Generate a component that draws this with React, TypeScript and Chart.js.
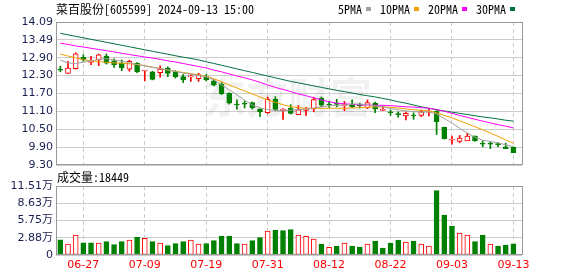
import React, { useEffect, useRef } from "react";
import { Chart, registerables } from "chart.js";

Chart.register(...registerables);

const stockName = "菜百股份";
const stockCode = "605599";
const dateTime = "2024-09-13 15:00";
const watermarkText = "东方财富";

const dates = [
  "06-24", "06-25", "06-26", "06-27", "06-28",
  "07-01", "07-02", "07-03", "07-04", "07-05", "07-08", "07-09", "07-10", "07-11", "07-12",
  "07-15", "07-16", "07-17", "07-18", "07-19", "07-22", "07-23", "07-24", "07-25", "07-26",
  "07-29", "07-30", "07-31",
  "08-01", "08-02", "08-05", "08-06", "08-07", "08-08", "08-09", "08-12", "08-13", "08-14",
  "08-15", "08-16", "08-19", "08-20", "08-21", "08-22", "08-23", "08-26", "08-27", "08-28",
  "08-29", "08-30",
  "09-02", "09-03", "09-04", "09-05", "09-06", "09-09", "09-10", "09-11", "09-12", "09-13",
];

const opens = [
  12.5, 12.37, 12.53, 12.91, 12.74, 12.82, 12.95, 12.79, 12.71, 12.51,
  12.71, 12.45, 12.42, 12.39, 12.55, 12.42, 12.26, 12.25, 12.19, 12.26,
  12.12, 12.01, 11.7, 11.33, 11.35, 11.39, 11.17, 11.05, 11.5, 11.13,
  11.21, 10.99, 11.13, 11.18, 11.53, 11.33, 11.35, 11.29, 11.34, 11.31,
  11.21, 11.37, 11.13, 11.06, 11.0, 10.94, 10.95, 10.96, 11.07, 11.11,
  10.56, 10.13, 10.09, 10.11, 10.27, 10.01, 10.01, 9.99, 9.91, 9.89,
];
const closes = [
  12.48, 12.55, 13.02, 12.82, 12.77, 12.99, 12.71, 12.66, 12.55, 12.77,
  12.42, 12.46, 12.17, 12.51, 12.37, 12.26, 12.15, 12.27, 12.33, 12.15,
  11.97, 11.68, 11.37, 11.31, 11.34, 11.21, 11.08, 11.5, 11.16, 11.15,
  11.03, 11.15, 11.17, 11.49, 11.3, 11.31, 11.33, 11.31, 11.25, 11.29,
  11.39, 11.17, 11.14, 11.05, 10.99, 11.03, 10.94, 11.08, 11.09, 10.75,
  10.18, 10.15, 10.2, 10.27, 10.11, 10.0, 10.0, 9.98, 9.85, 9.71,
];
const highs = [
  12.61, 12.77, 13.06, 12.99, 12.94, 13.02, 13.02, 12.86, 12.82, 12.81,
  12.73, 12.47, 12.44, 12.62, 12.59, 12.46, 12.33, 12.33, 12.37, 12.33,
  12.15, 12.06, 11.72, 11.48, 11.45, 11.41, 11.19, 11.58, 11.59, 11.19,
  11.32, 11.29, 11.23, 11.57, 11.58, 11.43, 11.5, 11.43, 11.48, 11.37,
  11.48, 11.41, 11.27, 11.14, 11.08, 11.08, 11.05, 11.14, 11.19, 11.13,
  10.57, 10.27, 10.29, 10.36, 10.28, 10.11, 10.07, 10.05, 10.03, 9.91,
];
const lows = [
  12.42, 12.37, 12.51, 12.77, 12.66, 12.63, 12.68, 12.57, 12.46, 12.44,
  12.39, 12.12, 12.15, 12.24, 12.26, 12.21, 12.06, 12.1, 12.1, 12.12,
  11.95, 11.66, 11.34, 11.17, 11.21, 11.17, 10.92, 11.03, 11.12, 10.83,
  11.01, 10.99, 10.96, 11.08, 11.25, 11.23, 11.25, 11.12, 11.23, 11.21,
  11.19, 11.05, 11.12, 10.96, 10.9, 10.81, 10.83, 10.92, 10.94, 10.32,
  10.17, 10.0, 10.05, 10.11, 10.1, 9.91, 9.85, 9.91, 9.85, 9.71,
];

const ma5 = [
  12.81, 12.72, 12.7, 12.74, 12.79, 12.84, 12.86, 12.82, 12.78, 12.72,
  12.66, 12.62, 12.57, 12.53, 12.48, 12.43, 12.38, 12.34, 12.3, 12.25,
  12.15, 11.98, 11.82, 11.65, 11.47, 11.31, 11.21, 11.16, 11.13, 11.11,
  11.14, 11.15, 11.17, 11.21, 11.25, 11.28, 11.3, 11.31, 11.34, 11.34,
  11.31, 11.28, 11.25, 11.19, 11.15, 11.11, 11.09, 11.07, 11.08, 11.01,
  10.85, 10.71, 10.53, 10.37, 10.23, 10.13, 10.09, 10.04, 9.98, 9.91,
];
const ma10 = [
  13.02, 12.95, 12.89, 12.83, 12.79, 12.76, 12.74, 12.72, 12.71, 12.69,
  12.67, 12.63, 12.58, 12.53, 12.48, 12.44, 12.4, 12.36, 12.32, 12.27,
  12.19, 12.09, 11.98, 11.88, 11.78, 11.68, 11.58, 11.48, 11.4, 11.32,
  11.26, 11.22, 11.2, 11.2, 11.2, 11.2, 11.2, 11.2, 11.21, 11.22,
  11.23, 11.25, 11.25, 11.23, 11.21, 11.18, 11.15, 11.13, 11.11, 11.05,
  10.96, 10.88, 10.78, 10.68, 10.58, 10.48, 10.37, 10.26, 10.14, 10.03,
];
const ma20 = [
  13.38, 13.34, 13.29, 13.25, 13.21, 13.17, 13.13, 13.09, 13.04, 13.0,
  12.96, 12.92, 12.88, 12.84, 12.79, 12.75, 12.7, 12.65, 12.6, 12.55,
  12.48, 12.42, 12.35, 12.28, 12.22, 12.15, 12.07, 11.98, 11.9, 11.83,
  11.76, 11.68, 11.62, 11.55, 11.48, 11.42, 11.37, 11.35, 11.33, 11.31,
  11.31, 11.3, 11.3, 11.29, 11.27, 11.25, 11.24, 11.22, 11.2, 11.16,
  11.1, 11.03, 10.96, 10.9, 10.83, 10.77, 10.71, 10.65, 10.6, 10.54,
];
const ma30 = [
  13.71, 13.66, 13.61, 13.56, 13.51, 13.46, 13.41, 13.36, 13.31, 13.26,
  13.21, 13.16, 13.11, 13.06, 13.01, 12.96, 12.91, 12.87, 12.82, 12.76,
  12.7, 12.64, 12.58, 12.52, 12.46, 12.4, 12.34, 12.28, 12.22, 12.16,
  12.1, 12.05, 12.0, 11.95, 11.9, 11.85, 11.8, 11.76, 11.71, 11.66,
  11.62, 11.58, 11.53, 11.48, 11.42, 11.37, 11.31, 11.25, 11.2, 11.15,
  11.11, 11.07, 11.03, 10.99, 10.95, 10.91, 10.88, 10.84, 10.8, 10.77,
];

const volumes = [
  25500, 18300, 33400, 20500, 20500, 20000, 22200, 17200, 22200, 25000,
  30000, 27800, 22200, 20000, 15600, 18900, 22200, 25000, 18300, 18900,
  23900, 31700, 31700, 18900, 18300, 23900, 28900, 40000, 41700, 40600,
  42200, 33400, 31100, 26700, 18300, 12800, 15000, 20000, 15000, 13300,
  18300, 23400, 11700, 20000, 25000, 21700, 23400, 18300, 15000, 107300,
  66700, 48400, 36700, 33400, 22200, 33400, 18300, 15000, 16700, 18449,
];
const volumeUp = [
  false, true, true, false, false, true, false, false, false, true,
  false, true, false, true, false, false, false, true, true, false,
  false, false, false, false, true, false, false, true, false, false,
  false, true, true, true, false, true, false, true, false, false,
  true, false, false, false, false, true, false, true, true, false,
  false, false, true, true, false, false, true, false, false, false,
];

const priceTickLabels = ["9.30", "9.90", "10.50", "11.10", "11.70", "12.30", "12.90", "13.49", "14.09"];
const priceMin = 9.3;
const priceMax = 14.09;
const volumeTickLabels = ["0", "2.88万", "5.75万", "8.63万", "11.51万"];
const volumeMax = 115100;
const xTickDates = ["06-27", "07-09", "07-19", "07-31", "08-12", "08-22", "09-03", "09-13"];

const maNames = ["5PMA", "10PMA", "20PMA", "30PMA"];
const maColors = ["#a0a0a0", "#f0a000", "#ff00ff", "#00703c"];

const RED = "#ff0000";
const GREEN = "#008000";
const GRID = "#cccccc";
const FRAME = "#999999";
const LABEL = "#1a2050";
const AXIS_FONT = { family: '"DejaVu Sans", "Noto Sans CJK SC", sans-serif', size: 11 };
const X_MIN = -0.56;
const X_MAX = 60.12;

const framePlugin = {
  id: "frame",
  afterDraw(chart: any) {
    const { ctx, chartArea } = chart;
    const l = Math.round(chartArea.left) + 0.5;
    const t = Math.round(chartArea.top) + 0.5;
    const r = Math.round(chartArea.right) + 0.5;
    const b = Math.round(chartArea.bottom) - 0.5;
    ctx.save();
    ctx.strokeStyle = FRAME;
    ctx.lineWidth = 1;
    ctx.strokeRect(l, t, r - l, b - t);
    ctx.restore();
  },
};

const watermarkPlugin = {
  id: "watermark",
  beforeDatasetsDraw(chart: any) {
    const { ctx, chartArea } = chart;
    ctx.save();
    ctx.font = 'bold 42px "Noto Sans CJK SC", sans-serif';
    ctx.fillStyle = "rgba(0,0,0,0.055)";
    ctx.textAlign = "center";
    ctx.textBaseline = "middle";
    ctx.fillText(watermarkText, chartArea.left + 232, chartArea.top + 75);
    ctx.restore();
  },
};

const evenTicks = (labels: string[], min: number, max: number) =>
  labels.map((_, k) => ({ value: min + (k * (max - min)) / (labels.length - 1) }));

export default function App() {
  const priceRef = useRef<HTMLCanvasElement | null>(null);
  const volRef = useRef<HTMLCanvasElement | null>(null);

  useEffect(() => {
    const up = closes.map((c, i) => c >= opens[i]);
    const xScaleBase = {
      type: "linear" as const,
      min: X_MIN,
      max: X_MAX,
      offset: false,
      afterBuildTicks: (s: any) => {
        s.ticks = xTickDates.map((d) => ({ value: dates.indexOf(d) }));
      },
      grid: { color: GRID, drawTicks: false, offset: false },
      border: { display: false, dash: [4, 3] },
    };

    const priceChart = new Chart(priceRef.current as HTMLCanvasElement, {
      type: "bar",
      data: {
        datasets: [
          ...[ma5, ma10, ma20, ma30].map((arr, k) => ({
            type: "line" as const,
            label: maNames[k],
            data: arr.map((v, i) => ({ x: i, y: v })),
            borderColor: maColors[k],
            borderWidth: 1,
            pointRadius: 0,
            tension: 0,
            order: 0,
          })),
          {
            type: "bar" as const,
            label: "body",
            data: opens.map((o, i) => ({ x: i, y: [o, closes[i]] })),
            backgroundColor: up.map((u) => (u ? "#ffffff" : GREEN)),
            borderColor: up.map((u) => (u ? RED : GREEN)),
            borderWidth: 1,
            borderSkipped: false,
            barThickness: 5,
            minBarLength: 1,
            grouped: false,
            order: 1,
          },
          {
            type: "bar" as const,
            label: "wick",
            data: lows.map((l, i) => ({ x: i, y: [l, highs[i]] })),
            backgroundColor: up.map((u) => (u ? RED : GREEN)),
            borderWidth: 0,
            barThickness: 1,
            grouped: false,
            order: 2,
          },
        ] as any,
      },
      options: {
        animation: false,
        responsive: false,
        events: [],
        layout: { padding: { left: 0, right: 56, top: 22, bottom: 10 } },
        plugins: { legend: { display: false }, tooltip: { enabled: false } },
        scales: {
          x: {
            ...xScaleBase,
            afterFit: (s: any) => {
              s.height = 0;
            },
            ticks: { display: false },
          },
          y: {
            min: priceMin,
            max: priceMax,
            afterBuildTicks: (s: any) => {
              s.ticks = evenTicks(priceTickLabels, priceMin, priceMax);
            },
            afterFit: (s: any) => {
              s.width = 56;
            },
            ticks: {
              font: AXIS_FONT,
              color: LABEL,
              padding: 3,
              callback: (_v: any, idx: number) => priceTickLabels[idx],
            },
            grid: { color: GRID, drawTicks: false },
            border: { display: false },
          },
        } as any,
      },
      plugins: [watermarkPlugin, framePlugin],
    });

    const volChart = new Chart(volRef.current as HTMLCanvasElement, {
      type: "bar",
      data: {
        datasets: [
          {
            label: "成交量",
            data: volumes.map((v, i) => ({ x: i, y: v })),
            backgroundColor: volumeUp.map((u) => (u ? "#ffffff" : GREEN)),
            borderColor: volumeUp.map((u) => (u ? RED : GREEN)),
            borderWidth: 1,
            borderSkipped: false,
            barThickness: 5,
            grouped: false,
          },
        ] as any,
      },
      options: {
        animation: false,
        responsive: false,
        events: [],
        layout: { padding: { left: 0, right: 56, top: 16, bottom: 0 } },
        plugins: { legend: { display: false }, tooltip: { enabled: false } },
        scales: {
          x: {
            ...xScaleBase,
            afterFit: (s: any) => {
              s.height = 21;
            },
            ticks: {
              font: AXIS_FONT,
              color: RED,
              padding: 4,
              maxRotation: 0,
              autoSkip: false,
              callback: (v: any) => dates[Math.round(Number(v))],
            },
          },
          y: {
            min: 0,
            max: volumeMax,
            afterBuildTicks: (s: any) => {
              s.ticks = evenTicks(volumeTickLabels, 0, volumeMax);
            },
            afterFit: (s: any) => {
              s.width = 56;
            },
            ticks: {
              font: AXIS_FONT,
              color: LABEL,
              padding: 3,
              callback: (_v: any, idx: number) => volumeTickLabels[idx],
            },
            grid: { color: GRID, drawTicks: false },
            border: { display: false },
          },
        } as any,
      },
      plugins: [framePlugin],
    });

    return () => {
      priceChart.destroy();
      volChart.destroy();
    };
  }, []);

  const headFont = '12px/14px "Noto Sans Mono CJK SC", "Noto Sans CJK SC", sans-serif';

  return (
    <div
      style={{
        position: "absolute",
        left: 0,
        top: 0,
        width: 578,
        height: 276,
        background: "#ffffff",
        overflow: "hidden",
      }}
    >
      <canvas
        ref={priceRef}
        width={578}
        height={175}
        style={{ position: "absolute", left: 0, top: 0, width: 578, height: 175 }}
      />
      <canvas
        ref={volRef}
        width={578}
        height={106}
        style={{ position: "absolute", left: 0, top: 170, width: 578, height: 106 }}
      />
      <div style={{ position: "absolute", left: 56, top: 2, font: headFont, color: "#000", whiteSpace: "nowrap" }}>
        {`${stockName}[${stockCode}] ${dateTime}`}
      </div>
      <div
        style={{
          position: "absolute",
          left: 338,
          top: 2,
          font: headFont,
          color: "#000",
          whiteSpace: "nowrap",
          display: "flex",
          alignItems: "center",
        }}
      >
        {maNames.map((n, k) => (
          <React.Fragment key={n}>
            <span>{n}</span>
            <span
              style={{
                display: "inline-block",
                width: 5,
                height: 4,
                background: maColors[k],
                marginLeft: 4,
                marginRight: 9,
              }}
            />
          </React.Fragment>
        ))}
      </div>
      <div style={{ position: "absolute", left: 57, top: 170, font: headFont, color: "#000", whiteSpace: "nowrap" }}>
        {`成交量:${volumes[volumes.length - 1]}`}
      </div>
    </div>
  );
}
